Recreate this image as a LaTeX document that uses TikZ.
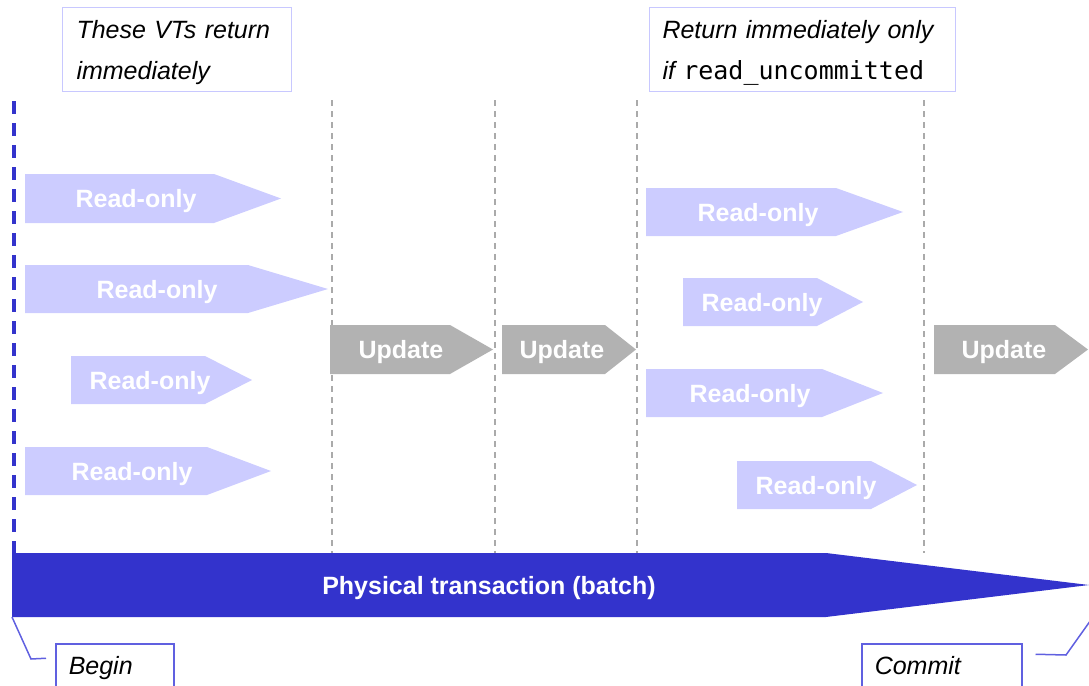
\documentclass[tikz,border=0pt]{standalone}
\usepackage{fontspec}
\setmainfont{Liberation Sans}
\setmonofont{DejaVu Sans Mono}
\usetikzlibrary{calc}

\definecolor{roFill}{HTML}{CCCCFF}
\definecolor{upFill}{HTML}{B2B2B2}
\definecolor{batchBlue}{HTML}{3333CC}
\definecolor{noteLine}{HTML}{C8C8FF}
\definecolor{calloutLine}{HTML}{6060E0}
\definecolor{guideGray}{HTML}{AAAAAA}

\begin{document}
\begin{tikzpicture}[
    x=1pt, y=-1pt,
    readonly/.style={fill=roFill},
    update/.style={fill=upFill},
    batch/.style={fill=batchBlue},
    lbl/.style={font=\fontsize{25}{30}\selectfont\bfseries, text=white, inner sep=0pt, text height=18pt, text depth=0pt},
    guide/.style={guideGray, line width=1.5pt, dash pattern=on 6pt off 5pt},
    startguide/.style={batchBlue, line width=4pt, dash pattern=on 13pt off 9pt},
    note/.style={font=\fontsize{25}{40}\selectfont\itshape, align=left, anchor=base west,
      draw=noteLine, line width=1pt, inner xsep=14pt, inner ysep=0pt, text height=31pt, text depth=52pt},
    endnote/.style={note, draw=calloutLine, line width=1.5pt, inner xsep=13pt, text height=30pt, text depth=30pt},
    callout/.style={calloutLine, line width=1.5pt}
  ]
  \clip (0,0) rectangle (1089,685);

  % Guide lines
  \draw[startguide] (14,101) -- (14,617);
  \draw[guide] (332,100) -- (332,553);
  \draw[guide] (495,100) -- (495,553);
  \draw[guide] (637,100) -- (637,553);
  \draw[guide] (924,100) -- (924,553);

  % Notes on top
  \node[note, text width=201pt] (early) at (62,39) {These VTs return\\immediately};
  \node[note, inner xsep=13pt, text width=280pt] (late) at (649,39)
    {Return immediately only\\if {\upshape\ttfamily read\_uncommitted}};

  % Read-only VTs before the first update
  \fill[readonly] (25,174) -- (214,174) -- (281,198.5) -- (214,223) -- (25,223) -- cycle;
  \node[lbl] (ro1) at (136,198.5) {Read-only};
  \fill[readonly] (25,265) -- (248,265) -- (328,289) -- (248,313) -- (25,313) -- cycle;
  \node[lbl] (ro2) at (157,289) {Read-only};
  \fill[readonly] (71,356) -- (205,356) -- (252,380) -- (205,404) -- (71,404) -- cycle;
  \node[lbl] (ro3) at (150,380) {Read-only};
  \fill[readonly] (25,447) -- (207,447) -- (271,471) -- (207,495) -- (25,495) -- cycle;
  \node[lbl] (ro4) at (132,471) {Read-only};

  % Updates
  \fill[update] (330,325) -- (450,325) -- (493,349.5) -- (450,374) -- (330,374) -- cycle;
  \node[lbl] (up1) at (401,349.5) {Update};
  \fill[update] (502,325) -- (605,325) -- (636,349.5) -- (605,374) -- (502,374) -- cycle;
  \node[lbl] (up2) at (562,349.5) {Update};
  \fill[update] (934,325) -- (1055,325) -- (1088,349.5) -- (1055,374) -- (934,374) -- cycle;
  \node[lbl] (up3) at (1004,349.5) {Update};

  % Read-only VTs after the second update
  \fill[readonly] (646,188) -- (836,188) -- (903,212) -- (836,236) -- (646,236) -- cycle;
  \node[lbl] (ro5) at (758,212) {Read-only};
  \fill[readonly] (683,278) -- (817,278) -- (863,302) -- (817,326) -- (683,326) -- cycle;
  \node[lbl] (ro6) at (762,302) {Read-only};
  \fill[readonly] (646,369) -- (822,369) -- (883,393) -- (822,417) -- (646,417) -- cycle;
  \node[lbl] (ro7) at (750,393) {Read-only};
  \fill[readonly] (737,461) -- (871,461) -- (917,485) -- (871,509) -- (737,509) -- cycle;
  \node[lbl] (ro8) at (816,485) {Read-only};

  % Physical transaction
  \fill[batch] (12,553) -- (826,553) -- (1089,585) -- (826,617) -- (12,617) -- cycle;
  \node[lbl] (batch) at (489,585) {Physical transaction (batch)};
  \coordinate (batch-sw) at (12,617);
  \coordinate (batch-se) at (1093,617);

  % Begin and commit
  \node[endnote, text width=92pt] (begin) at (55,674) {Begin};
  \node[endnote, text width=134pt] (commit) at (861,674) {Commit};
  \draw[callout] (batch-sw) -- (31,659) -- ($(begin.north west)+(-9,15)$);
  \draw[callout] (batch-se) -- (1066,655) -- ($(commit.north east)+(13,11)$);

\end{tikzpicture}
\end{document}
